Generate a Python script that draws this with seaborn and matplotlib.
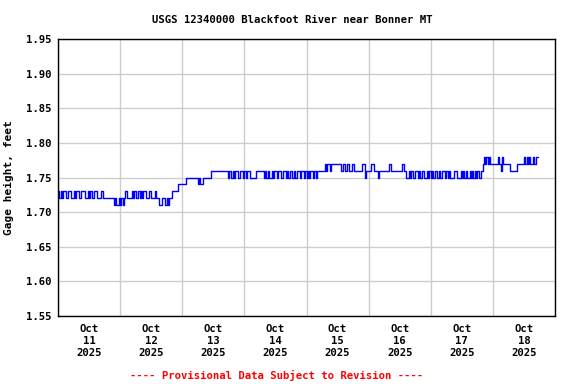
import pandas as pd
import matplotlib
matplotlib.use('Agg')
import matplotlib.pyplot as plt
import seaborn as sns

# gage height, hundredths of a foot, one value every 30 min from Oct 11 00:00
oct11 = [173, 172, 173, 172, 173, 173, 172, 172, 173, 173, 172, 172, 173, 172, 173, 173,
         172, 172, 173, 173, 173, 172, 172, 173, 172, 173, 172, 172, 173, 173, 172, 172,
         172, 173, 173, 172, 172, 172, 172, 172, 172, 172, 172, 171, 172, 171, 171, 172]
oct12 = [171, 172, 171, 172, 173, 172, 172, 172, 172, 173, 172, 173, 172, 172, 173, 172,
         173, 172, 173, 173, 172, 172, 173, 173, 172, 172, 172, 173, 172, 172, 171, 171,
         172, 172, 172, 171, 172, 171, 172, 172, 173, 173, 173, 173, 173, 174, 174, 174]
oct13 = [174, 174, 174, 175, 175, 175, 175, 175, 175, 175, 175, 175, 174, 175, 174, 174,
         175, 175, 175, 175, 175, 175, 176, 176, 176, 176, 176, 176, 176, 176, 176, 176,
         176, 176, 176, 175, 176, 176, 175, 176, 175, 176, 176, 175, 175, 176, 176, 175]
oct14 = [176, 175, 176, 176, 175, 175, 175, 175, 175, 176, 176, 176, 176, 176, 176, 175,
         176, 175, 176, 175, 175, 176, 175, 176, 176, 175, 176, 176, 175, 175, 176, 176,
         175, 176, 175, 176, 176, 175, 176, 175, 175, 176, 176, 175, 176, 176, 175, 176]
oct15 = [175, 176, 175, 176, 176, 175, 176, 175, 176, 176, 176, 176, 176, 176, 177, 176,
         177, 177, 176, 177, 177, 177, 177, 177, 177, 177, 177, 176, 177, 177, 176, 177,
         177, 176, 176, 177, 177, 176, 176, 176, 176, 176, 176, 177, 177, 175, 176, 176]
oct16 = [176, 176, 177, 177, 176, 176, 176, 175, 176, 176, 176, 176, 176, 176, 176, 176,
         177, 176, 176, 176, 176, 176, 176, 176, 176, 176, 177, 176, 176, 175, 175, 176,
         175, 176, 175, 175, 176, 176, 175, 176, 175, 176, 176, 175, 175, 176, 175, 176]
oct17 = [175, 176, 175, 176, 176, 175, 176, 175, 175, 176, 176, 175, 176, 175, 176, 175,
         175, 175, 176, 176, 175, 175, 175, 176, 175, 176, 175, 176, 175, 175, 176, 175,
         176, 175, 176, 175, 176, 175, 175, 176, 177, 178, 177, 178, 177, 178, 177, 177]
oct18 = [177, 177, 177, 177, 178, 177, 176, 178, 177, 177, 177, 177, 177, 176, 176, 176,
         176, 176, 176, 177, 177, 177, 177, 177, 178, 177, 178, 177, 178, 177, 177, 178,
         177, 178, 178, 178]

day_labels = ['Oct\n11\n2025', 'Oct\n12\n2025', 'Oct\n13\n2025', 'Oct\n14\n2025',
              'Oct\n15\n2025', 'Oct\n16\n2025', 'Oct\n17\n2025', 'Oct\n18\n2025']
y_ticks = [1.55, 1.60, 1.65, 1.70, 1.75, 1.80, 1.85, 1.90, 1.95]

vals = oct11 + oct12 + oct13 + oct14 + oct15 + oct16 + oct17 + oct18
df = pd.DataFrame({
    'time': pd.date_range('2025-10-11 00:00', periods=len(vals), freq='30min'),
    'gage': [v / 100 for v in vals],
})

sns.set_style('white')
plt.rcParams['font.family'] = ['DejaVu Sans Mono']
plt.rcParams['font.weight'] = 'bold'
for k in ['text.color', 'axes.labelcolor', 'xtick.color', 'ytick.color']:
    plt.rcParams[k] = 'black'

fig = plt.figure(figsize=(5.76, 3.84), dpi=100)
ax = fig.add_axes([58 / 576, 1 - 316 / 384, 497 / 576, 277 / 384])

sns.lineplot(data=df, x='time', y='gage', ax=ax, color='#0000ff',
             linewidth=1.0, drawstyle='steps-post')

start = pd.Timestamp('2025-10-11 00:00')
end = pd.Timestamp('2025-10-19 00:00')
ax.set_xlim(start, end)
ax.set_ylim(1.55, 1.95)

# gridlines at midnight, labels at noon
midnights = pd.date_range(start, end, freq='D')
noons = midnights[:-1] + pd.Timedelta(hours=12)
ax.set_xticks(midnights)
ax.set_xticklabels([])
ax.set_xticks(noons, minor=True)
ax.set_xticklabels(day_labels, minor=True, fontsize=7.7, fontweight='bold',
                   linespacing=1.25)
ax.tick_params(axis='x', which='both', length=0)
ax.tick_params(axis='x', which='minor', pad=6)
ax.set_yticks(y_ticks)
ax.set_yticklabels([f'{t:.2f}' for t in y_ticks], fontsize=7.7, fontweight='bold')
ax.tick_params(axis='y', length=0, pad=5)

ax.grid(True, which='major', color='#cccccc', linewidth=1.0)
ax.set_axisbelow(True)
for s in ax.spines.values():
    s.set_color('black')
    s.set_linewidth(1.0)

ax.set_xlabel('')
ax.set_ylabel('Gage height, feet', fontsize=8, fontweight='bold', labelpad=8)

fig.text(292 / 576, 1 - 20 / 384, 'USGS 12340000 Blackfoot River near Bonner MT',
         ha='center', va='center', fontsize=7.7, fontweight='bold')
fig.text(277 / 576, 1 - 375 / 384, '---- Provisional Data Subject to Revision ----',
         ha='center', va='center', fontsize=7.7, fontweight='bold', color='#ff0000')

fig.savefig('out.png', dpi=100)
